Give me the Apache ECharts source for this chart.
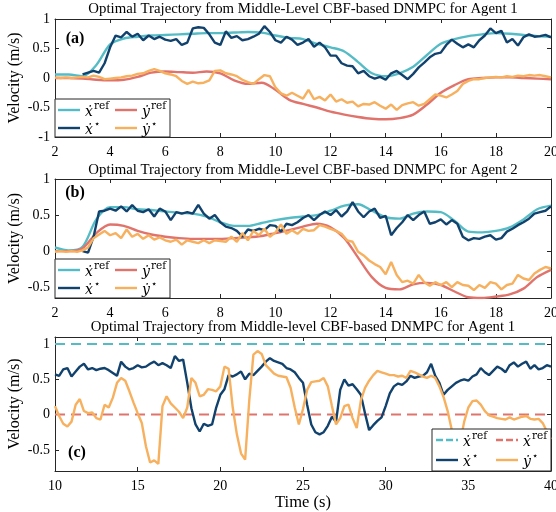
<!DOCTYPE html>
<html>
<head>
<meta charset="utf-8">
<script src="https://cdn.jsdelivr.net/npm/echarts@6/dist/echarts.min.js"></script>
<style>
  html, body { margin: 0; padding: 0; background: #fff; }
  #chart { width: 556px; height: 512px; }
</style>
</head>
<body>
<div id="chart"></div>
<script>
// sampling grids (time axis, s)
function steps(t0, t1, dt) {
    const out = [];
    for (let k = 0; t0 + k * dt <= t1 + 1e-9; k++) out.push(+(t0 + k * dt).toFixed(2));
    return out;
}
const tRefAB = steps(2, 20, 0.5);
const tActAB = steps(2, 20, 0.2);
const tActC = steps(10, 40, 0.25);
const tRefC = [10, 40];

// panel (a) - agent 1
const aXRef = [0.06, 0.06, 0.03, 0.22, 0.57, 0.67, 0.70, 0.72, 0.73, 0.74,
    0.75, 0.76, 0.76, 0.77, 0.78, 0.77, 0.72, 0.68, 0.66, 0.58,
    0.52, 0.45, 0.27, 0.08, 0.03, 0.08, 0.19, 0.39, 0.58, 0.66,
    0.71, 0.74, 0.76, 0.75, 0.73, 0.71, 0.70];
const aYRef = [0.00, 0.00, -0.01, -0.03, -0.04, -0.03, 0.02, 0.09, 0.11, 0.10,
    0.09, 0.11, 0.08, -0.04, -0.10, -0.08, -0.20, -0.37, -0.44, -0.50,
    -0.57, -0.62, -0.66, -0.69, -0.70, -0.68, -0.62, -0.45, -0.25, -0.12,
    -0.02, 0.00, 0.01, 0.01, 0.00, -0.01, -0.02];
const aXAct = [null, null, null, null, null, 0.06, 0.09, 0.12, 0.09, 0.25,
    0.52, 0.72, 0.69, 0.78, 0.70, 0.75, 0.64, 0.72, 0.66, 0.70,
    0.65, 0.63, 0.66, 0.56, 0.60, 0.84, 0.86, 0.85, 0.74, 0.60,
    0.56, 0.79, 0.68, 0.71, 0.64, 0.66, 0.70, 0.75, 0.88, 0.78,
    0.64, 0.60, 0.70, 0.65, 0.56, 0.60, 0.66, 0.53, 0.60, 0.52,
    0.38, 0.38, 0.25, 0.21, 0.20, 0.08, 0.12, 0.03, -0.01, 0.02,
    -0.03, 0.08, 0.12, 0.05, -0.02, 0.07, 0.18, 0.26, 0.35, 0.41,
    0.43, 0.56, 0.65, 0.58, 0.52, 0.57, 0.52, 0.64, 0.72, 0.84,
    0.76, 0.80, 0.60, 0.66, 0.55, 0.69, 0.74, 0.70, 0.71, 0.73,
    0.69];
const aYAct = [0.01, 0.00, 0.01, 0.00, 0.01, 0.02, 0.01, 0.04, 0.02, -0.02,
    -0.01, 0.00, 0.01, 0.03, 0.04, 0.07, 0.08, 0.12, 0.15, 0.12,
    0.08, 0.06, 0.03, -0.05, -0.10, -0.06, -0.09, -0.08, -0.04, 0.12,
    0.13, 0.08, 0.06, 0.03, -0.03, -0.07, -0.10, -0.02, 0.05, 0.03,
    -0.16, -0.26, -0.30, -0.25, -0.30, -0.35, -0.20, -0.36, -0.32, -0.38,
    -0.28, -0.40, -0.36, -0.42, -0.40, -0.48, -0.44, -0.45, -0.41, -0.47,
    -0.52, -0.45, -0.54, -0.46, -0.43, -0.41, -0.47, -0.44, -0.36, -0.28,
    -0.30, -0.33, -0.28, -0.22, -0.10, -0.05, -0.02, -0.02, 0.00, 0.01,
    0.02, 0.01, 0.03, 0.02, 0.04, 0.03, 0.05, 0.04, 0.05, 0.03,
    0.01];

// panel (b) - agent 2
const bXRef = [0.05, 0.01, 0.06, 0.44, 0.61, 0.61, 0.58, 0.57, 0.55, 0.53,
    0.52, 0.48, 0.40, 0.35, 0.35, 0.39, 0.43, 0.46, 0.48, 0.50,
    0.56, 0.63, 0.65, 0.56, 0.47, 0.45, 0.52, 0.55, 0.54, 0.42,
    0.27, 0.26, 0.28, 0.33, 0.44, 0.58, 0.63];
const bYRef = [0.00, 0.00, 0.04, 0.25, 0.37, 0.35, 0.28, 0.23, 0.20, 0.18,
    0.17, 0.17, 0.17, 0.18, 0.19, 0.21, 0.25, 0.29, 0.34, 0.38,
    0.33, 0.18, -0.09, -0.36, -0.51, -0.53, -0.46, -0.44, -0.47, -0.56,
    -0.64, -0.65, -0.63, -0.60, -0.52, -0.36, -0.26];
const bXAct = [null, null, null, null, null, 0.00, -0.02, 0.20, 0.55, 0.56,
    0.59, 0.56, 0.62, 0.55, 0.64, 0.56, 0.54, 0.58, 0.48, 0.59,
    0.55, 0.43, 0.54, 0.52, 0.54, 0.52, 0.64, 0.52, 0.45, 0.50,
    0.40, 0.34, 0.32, 0.28, 0.20, 0.30, 0.28, 0.31, 0.29, 0.36,
    0.35, 0.27, 0.38, 0.36, 0.40, 0.46, 0.50, 0.43, 0.50, 0.55,
    0.50, 0.57, 0.48, 0.55, 0.68, 0.55, 0.47, 0.55, 0.59, 0.46,
    0.49, 0.22, 0.32, 0.40, 0.50, 0.43, 0.50, 0.55, 0.38, 0.40,
    0.44, 0.37, 0.43, 0.38, 0.20, 0.15, 0.18, 0.17, 0.20, 0.22,
    0.16, 0.18, 0.27, 0.31, 0.36, 0.40, 0.45, 0.52, 0.54, 0.56,
    0.62];
const bYAct = [-0.01, 0.00, -0.01, 0.00, -0.01, 0.01, 0.05, 0.18, 0.23, 0.28,
    0.22, 0.25, 0.18, 0.30, 0.20, 0.24, 0.17, 0.22, 0.16, 0.19,
    0.15, 0.13, 0.16, 0.09, 0.15, 0.13, 0.11, 0.15, 0.11, 0.15,
    0.14, 0.13, 0.20, 0.13, 0.25, 0.15, 0.28, 0.22, 0.31, 0.20,
    0.26, 0.37, 0.24, 0.29, 0.24, 0.31, 0.28, 0.29, 0.36, 0.34,
    0.31, 0.28, 0.24, 0.15, 0.13, -0.01, -0.06, -0.13, -0.18, -0.22,
    -0.32, -0.15, -0.33, -0.43, -0.41, -0.45, -0.33, -0.43, -0.48, -0.43,
    -0.47, -0.43, -0.50, -0.43, -0.47, -0.48, -0.54, -0.47, -0.51, -0.43,
    -0.45, -0.53, -0.47, -0.45, -0.33, -0.38, -0.40, -0.31, -0.26, -0.22,
    -0.24];

// panel (c)
const cXRef = [1, 1];
const cYRef = [0, 0];
const cXAct = [0.57, 0.55, 0.64, 0.66, 0.54, 0.61, 0.68, 0.72, 0.64, 0.66, 0.63, 0.65,
    0.66, 0.63, 0.59, 0.55, 0.75, 0.68, 0.64, 0.66, 0.70, 0.67, 0.68, 0.72,
    0.75, 0.70, 0.73, 0.70, 0.66, 0.83, 0.76, 0.78, 0.45, 0.09, -0.14, -0.24,
    -0.13, -0.16, -0.14, 0.10, 0.28, 0.36, 0.56, 0.54, 0.57, 0.61, 0.50, 0.58,
    0.56, 0.62, 0.68, 0.75, 0.80, 0.76, 0.74, 0.72, 0.66, 0.64, 0.60, 0.52,
    0.45, 0.14, -0.14, -0.25, -0.28, -0.25, -0.16, -0.03, -0.10, 0.35, 0.50, 0.41,
    0.43, 0.36, 0.28, 0.02, -0.22, -0.15, -0.09, -0.04, 0.12, 0.30, 0.40, 0.44,
    0.42, 0.47, 0.55, 0.52, 0.54, 0.55, 0.60, 0.72, 0.55, 0.45, 0.28, 0.35,
    0.40, 0.45, 0.48, 0.50, 0.48, 0.54, 0.57, 0.66, 0.60, 0.56, 0.62, 0.68,
    0.65, 0.60, 0.70, 0.74, 0.68, 0.72, 0.75, 0.65, 0.70, 0.64, 0.66, 0.70,
    0.68];
const cYAct = [0.12, -0.02, -0.13, -0.17, -0.10, 0.14, 0.22, 0.05, 0.02, 0.03, -0.05, -0.07,
    0.14, 0.10, 0.24, 0.45, 0.52, 0.48, 0.33, 0.17, 0.02, -0.12, -0.45, -0.68,
    -0.65, -0.70, 0.12, 0.26, 0.16, 0.10, 0.04, -0.05, 0.10, 0.52, 0.45, 0.26,
    0.28, 0.36, 0.35, 0.33, 0.40, 0.68, 0.65, 0.10, -0.28, -0.55, -0.64, 0.20,
    0.85, 0.90, 0.86, 0.70, 0.64, 0.58, 0.55, 0.54, 0.53, 0.38, 0.10, -0.14,
    0.08, 0.35, 0.46, 0.47, 0.48, 0.52, 0.40, 0.12, -0.14, -0.05, 0.12, 0.14,
    -0.05, -0.19, 0.20, 0.38, 0.48, 0.56, 0.62, 0.60, 0.58, 0.56, 0.56, 0.54,
    0.55, 0.52, 0.62, 0.60, 0.57, 0.54, 0.52, 0.55, 0.52, 0.40, 0.25, 0.05,
    -0.22, -0.45, -0.40, -0.10, 0.10, 0.19, 0.20, 0.14, 0.05, -0.01, -0.03, -0.05,
    -0.06, -0.07, -0.04, -0.07, -0.05, -0.03, -0.02, -0.06, -0.07, -0.06, -0.12, -0.24,
    -0.35];

// axis ticks
const yTicksA = [-1, -0.5, 0, 0.5, 1];
const yTicksB = [-0.5, 0, 0.5, 1];
const yTicksC = [-0.5, 0, 0.5, 1];

const titles = [
    'Optimal Trajectory from Middle-Level CBF-based DNMPC for Agent 1',
    'Optimal Trajectory from Middle-Level CBF-based DNMPC for Agent 2',
    'Optimal Trajectory from Middle-level CBF-based DNMPC for Agent 1'
];

const C_XREF = '#55BCC6';
const C_YREF = '#E0746D';
const C_XACT = '#11426D';
const C_YACT = '#F7B05E';
const INK = '#262626';
const SERIF = 'Liberation Serif';

const chart = echarts.init(document.getElementById('chart'), null, { renderer: 'canvas' });

function pairs(t, v) {
    return t.map((x, i) => [x, v[i] === undefined ? null : v[i]]);
}

function xAxes(gi, min, max, step, name) {
    const base = {
        gridIndex: gi, type: 'value', min: min, max: max, interval: step,
        splitLine: { show: false },
        axisLine: { onZero: false, lineStyle: { color: INK, width: 1 } },
        axisTick: { inside: true, length: 4, lineStyle: { color: INK } }
    };
    const bottom = Object.assign({}, base, {
        position: 'bottom',
        axisLabel: { color: '#000', fontFamily: SERIF, fontSize: 14, margin: 8 }
    });
    if (name) {
        Object.assign(bottom, {
            name: name, nameLocation: 'middle', nameGap: 23, nameMoveOverlap: false,
            nameTextStyle: { color: '#000', fontFamily: SERIF, fontSize: 16.5 }
        });
    }
    const top = Object.assign({}, base, { position: 'top', axisLabel: { show: false } });
    return [bottom, top];
}

function yAxes(gi, min, max, ticks) {
    const base = {
        gridIndex: gi, type: 'value', min: min, max: max,
        splitLine: { show: false },
        axisLine: { onZero: false, lineStyle: { color: INK, width: 1 } },
        axisTick: { inside: true, length: 4, lineStyle: { color: INK }, customValues: ticks }
    };
    const left = Object.assign({}, base, {
        position: 'left',
        axisLabel: { color: '#000', fontFamily: SERIF, fontSize: 14, margin: 5, customValues: ticks },
        name: 'Velocity (m/s)', nameLocation: 'middle', nameGap: 32, nameMoveOverlap: false,
        nameTextStyle: { color: '#000', fontFamily: SERIF, fontSize: 16 }
    });
    const right = Object.assign({}, base, { position: 'right', axisLabel: { show: false } });
    return [left, right];
}

function line(name, gi, t, v, color, smooth, dashed) {
    return {
        name: name, type: 'line', xAxisIndex: 2 * gi, yAxisIndex: 2 * gi,
        data: pairs(t, v), symbol: 'none', smooth: smooth ? 0.3 : false,
        lineStyle: { color: color, width: dashed ? 2 : 2.4, type: dashed ? [10, 6] : 'solid' },
        itemStyle: { color: color },
        connectNulls: false, clip: true
    };
}

const labelText = {
    a_xr: '{m|ẋ}{s|ref}', a_yr: '{m|ẏ}{s|ref}', a_xa: '{m|ẋ}{t|⋆}', a_ya: '{m|ẏ}{t|⋆}',
    b_xr: '{m|ẋ}{s|ref}', b_yr: '{m|ẏ}{s|ref}', b_xa: '{m|ẋ}{t|⋆}', b_ya: '{m|ẏ}{t|⋆}',
    c_xr: '{m|ẋ}{s|ref}', c_yr: '{m|ẋ}{s|ref}', c_xa: '{m|ẋ}{t|⋆}', c_ya: '{m|ẏ}{t|⋆}'
};

const rich = {
    m: { fontFamily: 'DejaVu Serif', fontStyle: 'italic', fontSize: 14, color: '#000', verticalAlign: 'bottom' },
    s: { fontFamily: 'DejaVu Serif', fontSize: 10.5, color: '#000', padding: [0, 0, 7, 1], verticalAlign: 'bottom' },
    t: { fontFamily: 'DejaVu Sans', fontSize: 10, color: '#000', padding: [0, 0, 8, 1], verticalAlign: 'bottom' }
};

const ICON_SOLID = 'path://M0,0H22V2.4H0Z';
const ICON_DASH = 'path://M0,0H7V2.4H0Z M10,0H17V2.4H10Z M20,0H22V2.4H20Z';

function legendItem(name, left, cy, dashed) {
    return {
        data: [{ name: name, icon: dashed ? ICON_DASH : ICON_SOLID }],
        left: left, top: cy - 10, padding: 0, itemWidth: 22, itemHeight: 2.4,
        selectedMode: false, z: 20,
        formatter: n => labelText[n],
        textStyle: { rich: rich }
    };
}

const series = [
    line('a_xr', 0, tRefAB, aXRef, C_XREF, true),
    line('a_yr', 0, tRefAB, aYRef, C_YREF, true),
    line('a_xa', 0, tActAB, aXAct, C_XACT),
    line('a_ya', 0, tActAB, aYAct, C_YACT),
    line('b_xr', 1, tRefAB, bXRef, C_XREF, true),
    line('b_yr', 1, tRefAB, bYRef, C_YREF, true),
    line('b_xa', 1, tActAB, bXAct, C_XACT),
    line('b_ya', 1, tActAB, bYAct, C_YACT),
    line('c_xr', 2, tRefC, cXRef, C_XREF, false, true),
    line('c_yr', 2, tRefC, cYRef, C_YREF, false, true),
    line('c_xa', 2, tActC, cXAct, C_XACT),
    line('c_ya', 2, tActC, cYAct, C_YACT)
];

const legendBox = (x, y, w, h) => ({
    type: 'rect', z: 10, shape: { x: x, y: y, width: w, height: h },
    style: { fill: '#fff', stroke: INK, lineWidth: 1 }
});

const textEl = (txt, x, y, size, weight) => ({
    type: 'text', z: 30, x: x, y: y,
    style: {
        text: txt, fill: '#000', fontFamily: SERIF, fontSize: size, fontWeight: weight || 'normal',
        align: 'center', verticalAlign: 'middle'
    }
});

const gridBase = { left: 55, right: 5, containLabel: false, outerBoundsMode: 'none' };

chart.setOption({
    animation: false,
    backgroundColor: '#fff',
    grid: [
        Object.assign({ top: 19, height: 118 }, gridBase),
        Object.assign({ top: 179, height: 119 }, gridBase),
        Object.assign({ top: 337, height: 134 }, gridBase)
    ],
    xAxis: [].concat(
        xAxes(0, 2, 20, 2),
        xAxes(1, 2, 20, 2),
        xAxes(2, 10, 40, 5, 'Time (s)')
    ),
    yAxis: [].concat(
        yAxes(0, -1, 1, yTicksA),
        yAxes(1, -0.65, 1, yTicksB),
        yAxes(2, -0.8, 1.1, yTicksC)
    ),
    legend: [
        legendItem('a_xr', 58, 111), legendItem('a_yr', 115, 111),
        legendItem('a_xa', 58, 129), legendItem('a_ya', 115, 129),
        legendItem('b_xr', 58, 271), legendItem('b_yr', 115, 271),
        legendItem('b_xa', 58, 289), legendItem('b_ya', 115, 289),
        legendItem('c_xr', 436, 441, true), legendItem('c_yr', 496, 441, true),
        legendItem('c_xa', 436, 461), legendItem('c_ya', 496, 461)
    ],
    graphic: [
        legendBox(55, 99, 115, 38),
        legendBox(55, 259, 115, 39),
        legendBox(432, 429, 119, 42),
        textEl(titles[0], 303, 9, 14.8),
        textEl(titles[1], 303, 170, 14.8),
        textEl(titles[2], 303, 327, 14.8),
        textEl('(a)', 75, 39, 16, 'bold'),
        textEl('(b)', 75, 193, 16, 'bold'),
        textEl('(c)', 77, 453, 16, 'bold')
    ],
    series: series
});
</script>
</body>
</html>
